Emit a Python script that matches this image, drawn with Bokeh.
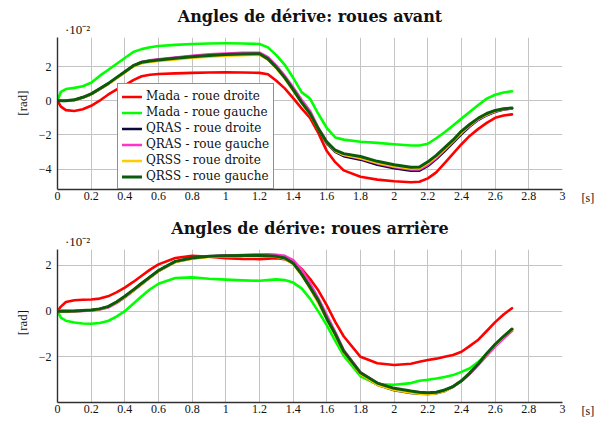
from bokeh.plotting import figure
from bokeh.layouts import column
from bokeh.models import Range1d, FixedTicker, Legend, LegendItem, LinearAxis
from bokeh.embed import file_html
from bokeh.resources import INLINE

# ---------------- data ----------------
x_ticks = [0, 0.2, 0.4, 0.6, 0.8, 1, 1.2, 1.4, 1.6, 1.8, 2, 2.2, 2.4, 2.6, 2.8, 3]
x_tick_labels = ["0", "0.2", "0.4", "0.6", "0.8", "1", "1.2", "1.4", "1.6", "1.8",
                 "2", "2.2", "2.4", "2.6", "2.8", "3"]
top_y_ticks = [-4, -2, 0, 2]
top_y_tick_labels = ["\u22124", "\u22122", "0", "2"]
bot_y_ticks = [-2, 0, 2]
bot_y_tick_labels = ["\u22122", "0", "2"]

series_names = ["Mada - roue droite", "Mada - roue gauche", "QRAS - roue droite",
                "QRAS - roue gauche", "QRSS - roue droite", "QRSS - roue gauche"]

t = [0, 0.02, 0.05, 0.1, 0.15, 0.2, 0.25, 0.3, 0.35, 0.4, 0.45, 0.5, 0.55, 0.6, 0.7,
     0.8, 0.9, 1.0, 1.1, 1.2, 1.25, 1.3, 1.35, 1.4, 1.45, 1.5, 1.55, 1.6, 1.65, 1.7,
     1.8, 1.9, 2.0, 2.1, 2.15, 2.2, 2.25, 2.3, 2.35, 2.4, 2.45, 2.5, 2.55, 2.6, 2.65, 2.7]

# front wheels (x 1e-2 rad)
avant_mada_droite = [0, -0.35, -0.55, -0.6, -0.5, -0.3, 0.0, 0.35, 0.65, 0.9, 1.2, 1.43, 1.52, 1.56, 1.6,
                     1.63, 1.65, 1.66, 1.65, 1.63, 1.55, 1.17, 0.72, 0.15, -0.45, -1.0, -1.9, -2.95, -3.6, -4.08,
                     -4.45, -4.62, -4.72, -4.78, -4.75, -4.55, -4.2, -3.65, -3.1, -2.55, -2.05, -1.65, -1.3, -1.0, -0.87, -0.8]
avant_mada_gauche = [0, 0.52, 0.68, 0.75, 0.85, 1.05, 1.45, 1.8, 2.15, 2.5, 2.85, 3.02, 3.13, 3.2, 3.27,
                     3.32, 3.35, 3.36, 3.35, 3.32, 3.12, 2.67, 2.1, 1.34, 0.5, 0.12, -0.78, -1.6, -2.15, -2.28,
                     -2.4, -2.47, -2.55, -2.62, -2.62, -2.52, -2.2, -1.85, -1.45, -1.05, -0.65, -0.25, 0.12, 0.35, 0.48, 0.55]
avant_qras_droite = [0, 0, 0, 0.04, 0.18, 0.38, 0.68, 0.98, 1.33, 1.68, 2.03, 2.25, 2.34, 2.4, 2.5,
                     2.6, 2.67, 2.72, 2.75, 2.76, 2.47, 1.97, 1.38, 0.68, -0.05, -0.72, -1.7, -2.5, -3.0, -3.25,
                     -3.45, -3.75, -3.95, -4.1, -4.1, -3.82, -3.42, -2.95, -2.45, -1.95, -1.5, -1.12, -0.85, -0.65, -0.52, -0.46]
avant_qras_gauche = [0, 0, 0, 0.04, 0.18, 0.38, 0.68, 0.98, 1.33, 1.68, 2.03, 2.26, 2.36, 2.43, 2.53,
                     2.63, 2.71, 2.76, 2.8, 2.81, 2.55, 2.05, 1.45, 0.78, 0.05, -0.6, -1.6, -2.4, -2.92, -3.18,
                     -3.38, -3.67, -3.88, -4.02, -4.02, -3.75, -3.35, -2.88, -2.38, -1.88, -1.45, -1.08, -0.82, -0.62, -0.5, -0.45]
avant_qrss_droite = [0, 0, 0, 0.04, 0.18, 0.38, 0.67, 0.97, 1.3, 1.65, 2.0, 2.2, 2.27, 2.32, 2.42,
                     2.51, 2.58, 2.63, 2.67, 2.69, 2.4, 1.9, 1.3, 0.6, -0.12, -0.78, -1.68, -2.47, -2.95, -3.17,
                     -3.35, -3.63, -3.83, -3.97, -3.95, -3.66, -3.28, -2.82, -2.35, -1.85, -1.43, -1.06, -0.8, -0.6, -0.49, -0.44]
avant_qrss_gauche = [0, 0, 0, 0.05, 0.2, 0.4, 0.7, 1.0, 1.35, 1.7, 2.05, 2.25, 2.33, 2.38, 2.48,
                     2.57, 2.65, 2.7, 2.74, 2.75, 2.45, 1.95, 1.35, 0.65, -0.1, -0.75, -1.65, -2.43, -2.9, -3.1,
                     -3.27, -3.55, -3.75, -3.9, -3.88, -3.58, -3.2, -2.75, -2.3, -1.78, -1.38, -1.02, -0.75, -0.57, -0.47, -0.43]

# rear wheels (x 1e-2 rad)
arriere_mada_droite = [0, 0.2, 0.4, 0.48, 0.5, 0.51, 0.55, 0.65, 0.82, 1.03, 1.28, 1.55, 1.82, 2.05, 2.33,
                       2.42, 2.38, 2.32, 2.29, 2.28, 2.3, 2.32, 2.27, 2.12, 1.85, 1.42, 0.9, 0.25, -0.47, -1.1,
                       -2.0, -2.28, -2.36, -2.3, -2.22, -2.14, -2.08, -2.0, -1.92, -1.78, -1.52, -1.25, -0.87, -0.48, -0.15, 0.13]
arriere_mada_gauche = [0, -0.28, -0.42, -0.5, -0.54, -0.55, -0.52, -0.43, -0.24, 0.0, 0.32, 0.65, 0.96, 1.2, 1.45,
                       1.48, 1.42, 1.38, 1.35, 1.33, 1.36, 1.39, 1.36, 1.25, 1.0, 0.55, -0.02, -0.62, -1.3, -1.95,
                       -2.85, -3.2, -3.22, -3.15, -3.05, -3.0, -2.95, -2.88, -2.8, -2.66, -2.5, -2.22, -1.88, -1.5, -1.15, -0.8]
arriere_qras_droite = [0, 0, 0, 0.01, 0.02, 0.04, 0.09, 0.19, 0.38, 0.63, 0.91, 1.2, 1.49, 1.77, 2.17,
                       2.32, 2.39, 2.43, 2.45, 2.46, 2.46, 2.44, 2.38, 2.17, 1.73, 1.12, 0.45, -0.28, -1.0, -1.78,
                       -2.75, -3.22, -3.46, -3.58, -3.62, -3.63, -3.6, -3.5, -3.3, -3.05, -2.72, -2.32, -1.9, -1.5, -1.15, -0.82]
arriere_qras_gauche = [0, 0, 0, 0.0, 0.01, 0.03, 0.07, 0.16, 0.35, 0.6, 0.88, 1.18, 1.47, 1.75, 2.16,
                       2.32, 2.4, 2.44, 2.46, 2.48, 2.49, 2.47, 2.42, 2.23, 1.82, 1.22, 0.55, -0.18, -0.92, -1.7,
                       -2.68, -3.15, -3.4, -3.53, -3.58, -3.6, -3.58, -3.48, -3.3, -3.05, -2.74, -2.35, -1.95, -1.55, -1.2, -0.86]
arriere_qrss_droite = [0, 0, 0, 0.01, 0.02, 0.04, 0.09, 0.19, 0.38, 0.62, 0.9, 1.19, 1.47, 1.75, 2.15,
                       2.3, 2.37, 2.4, 2.42, 2.42, 2.41, 2.38, 2.3, 2.06, 1.6, 1.0, 0.35, -0.35, -1.05, -1.8,
                       -2.76, -3.22, -3.45, -3.57, -3.61, -3.63, -3.6, -3.5, -3.3, -3.04, -2.7, -2.28, -1.88, -1.48, -1.12, -0.8]
arriere_qrss_gauche = [0, 0, 0, 0.01, 0.03, 0.05, 0.1, 0.2, 0.4, 0.65, 0.93, 1.22, 1.5, 1.78, 2.18,
                       2.33, 2.4, 2.43, 2.44, 2.44, 2.43, 2.4, 2.33, 2.1, 1.62, 1.05, 0.45, -0.33, -1.0, -1.75,
                       -2.7, -3.15, -3.38, -3.5, -3.55, -3.57, -3.55, -3.45, -3.3, -3.05, -2.7, -2.3, -1.85, -1.45, -1.1, -0.78]

colors = ["#ff0000", "#00ff00", "#0b0b3b", "#ff33cc", "#ffcc00", "#0a5c0a"]
widths = [2.6, 2.6, 2.6, 2.6, 2.6, 3.0]

SERIF = "Liberation Serif"
TXT = "#111111"
FRAME_W = 505
FIG_W = 598


def plain_axis(ax, size="12px"):
    ax.axis_line_color = None
    ax.major_tick_in = 0
    ax.major_tick_out = 0
    ax.minor_tick_in = 0
    ax.minor_tick_out = 0
    ax.major_label_text_font = SERIF
    ax.major_label_text_font_size = size
    ax.major_label_text_color = TXT


def make_fig(title, ymin, ymax, yticks, ylabels, height, bt, bb, frame_h, series, rad_shift):
    p = figure(width=FIG_W, height=height, x_range=Range1d(0, 3), y_range=Range1d(ymin, ymax),
               output_backend="svg", toolbar_location=None,
               min_border_left=57, min_border_right=FIG_W - 57 - FRAME_W,
               min_border_top=bt, min_border_bottom=bb)
    p.title.text = title
    p.title.align = "center"
    p.title.text_font = "DejaVu Serif"
    p.title.text_font_size = "16px"
    p.title.text_font_style = "bold"
    p.title.text_color = TXT
    p.title.standoff = -15
    p.outline_line_color = None
    p.background_fill_color = "white"
    p.border_fill_color = "white"

    p.xaxis.ticker = FixedTicker(ticks=x_ticks)
    p.xaxis.major_label_overrides = {k: v for k, v in zip(x_ticks, x_tick_labels)}
    p.yaxis.ticker = FixedTicker(ticks=yticks)
    p.yaxis.major_label_overrides = {k: v for k, v in zip(yticks, ylabels)}
    for ax in (p.xaxis, p.yaxis):
        plain_axis(ax)
        ax.axis_line_color = "#303030"
        ax.axis_line_width = 1.4
    p.xaxis.major_label_standoff = 2
    p.yaxis.major_label_standoff = 6

    p.xgrid.ticker = FixedTicker(ticks=x_ticks)
    p.ygrid.ticker = FixedTicker(ticks=yticks)
    p.grid.grid_line_color = "#c4c4c4"
    p.grid.grid_line_width = 1

    renderers = []
    for ys, c, w in zip(series, colors, widths):
        r = p.line(t, ys, line_color=c, line_width=w, line_join="round", line_cap="round")
        renderers.append(r)

    px_x = 3.0 / FRAME_W                 # data units per pixel (x)
    px_y = (ymax - ymin) / frame_h       # data units per pixel (y)

    # exponent "·10^-2" above the y axis
    ex = 20 * px_x
    exp_ax = LinearAxis(ticker=FixedTicker(ticks=[ex]), major_label_overrides={ex: "\u00b710\u207b\u00b2"})
    plain_axis(exp_ax, "13px")
    exp_ax.major_label_standoff = 1
    p.add_layout(exp_ax, "above")

    # y unit "[rad]"
    ry = (ymin + ymax) / 2 + rad_shift * px_y
    rad_ax = LinearAxis(ticker=FixedTicker(ticks=[ry]), major_label_overrides={ry: "[rad]"})
    plain_axis(rad_ax, "13px")
    rad_ax.major_label_orientation = "vertical"
    rad_ax.major_label_standoff = 6
    p.add_layout(rad_ax, "left")

    # x unit "[s]" next to the end of the x axis (second line of a two-line label)
    s_ax = LinearAxis(ticker=FixedTicker(ticks=[ymin]), major_label_overrides={ymin: "\n[s]"})
    plain_axis(s_ax, "12px")
    s_ax.major_label_standoff = 19
    p.add_layout(s_ax, "right")
    return p, renderers


p1, r1 = make_fig("Angles de dérive: roues avant", -5.2, 3.7, top_y_ticks, top_y_tick_labels,
                  210, 37, 21, 152,
                  [avant_mada_droite, avant_mada_gauche, avant_qras_droite,
                   avant_qras_gauche, avant_qrss_droite, avant_qrss_gauche], 10.5)
p2, r2 = make_fig("Angles de dérive: roues arrière", -4.0, 2.7, bot_y_ticks, bot_y_tick_labels,
                  211, 39, 19, 153,
                  [arriere_mada_droite, arriere_mada_gauche, arriere_qras_droite,
                   arriere_qras_gauche, arriere_qrss_droite, arriere_qrss_gauche], 3.5)

legend = Legend(items=[LegendItem(label=n, renderers=[r]) for n, r in zip(series_names, r1)],
                location=(60, 0))
legend.label_text_font = "DejaVu Serif"
legend.label_text_font_size = "12px"
legend.label_text_color = TXT
legend.glyph_width = 20
legend.glyph_height = 15
legend.label_height = 16
legend.label_standoff = 4
legend.spacing = 0
legend.padding = 4
legend.margin = 0
legend.border_line_color = "#202020"
legend.border_line_width = 1
legend.background_fill_color = "white"
legend.background_fill_alpha = 1
p1.add_layout(legend)

layout = column(p1, p2)
open("out.html", "w").write(file_html(layout, INLINE))
